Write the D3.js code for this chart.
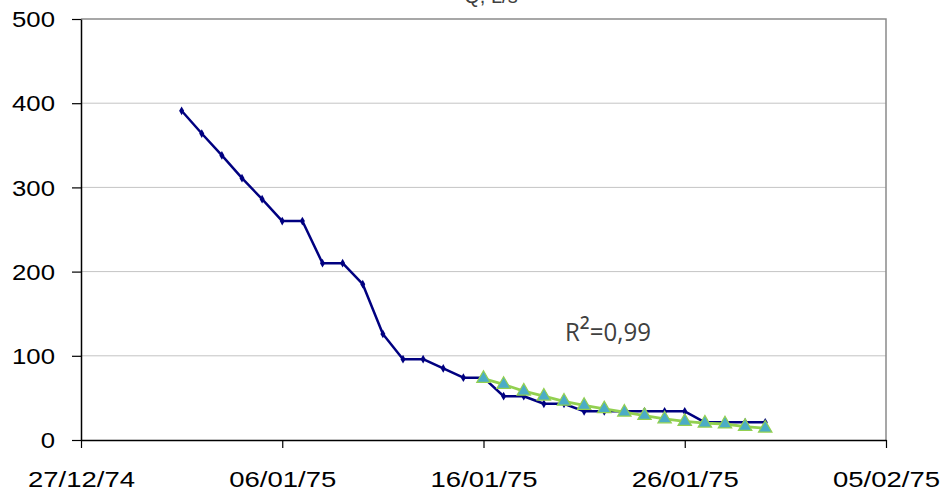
<!DOCTYPE html>
<html><head><meta charset="utf-8">
<script src="https://cdn.jsdelivr.net/npm/d3@7"></script>
<style>
html,body{margin:0;padding:0;background:#fff;}
svg{display:block;}
</style></head>
<body>
<svg id="c" width="946" height="497"></svg>
<script>
// ---- data ----
const obsDates = ["01/01/75","02/01/75","03/01/75","04/01/75","05/01/75","06/01/75","07/01/75","08/01/75","09/01/75","10/01/75",
  "11/01/75","12/01/75","13/01/75","14/01/75","15/01/75","16/01/75","17/01/75","18/01/75","19/01/75","20/01/75",
  "21/01/75","22/01/75","23/01/75","24/01/75","25/01/75","26/01/75","27/01/75","28/01/75","29/01/75","30/01/75"];
const obsValues = [391,364,338,311,286,260,260,210,210,185,126,96,96,85,74,74,52,52,43,43,34,34,34,34,34,34,21,21,21,21];
const fitDates = ["16/01/75","17/01/75","18/01/75","19/01/75","20/01/75","21/01/75","22/01/75","23/01/75","24/01/75","25/01/75",
  "26/01/75","27/01/75","28/01/75","29/01/75","30/01/75"];
const fitValues = [73,66,58,52,46,41,37,33,29,25,22,20,19,16,14];
const xTickLabels = ["27/12/74","06/01/75","16/01/75","26/01/75","05/02/75"];
const yTickValues = [0,100,200,300,400,500];
const r2Parts = ["R", "²", "=0,99"];
const titleText = "Q, L/s";

// ---- chart ----
const parse = d3.timeParse("%d/%m/%y");
const fmt = d3.timeFormat("%d/%m/%y");
const svg = d3.select("#c");
const L = 81, R = 886, T = 19, B = 440;
const x = d3.scaleTime().domain([parse(xTickLabels[0]), parse(xTickLabels[xTickLabels.length-1])]).range([L, R]);
const y = d3.scaleLinear().domain([0, 500]).range([B, T]);

// gridlines
svg.append("g").selectAll("line").data(yTickValues.filter(v => v > 0 && v < 500)).join("line")
  .attr("x1", L).attr("x2", R).attr("y1", d => y(d)).attr("y2", d => y(d))
  .attr("stroke", "#c4c4c4").attr("stroke-width", 1);
// plot border top/right
svg.append("path").attr("d", `M${L},${y(500)}H${R}V${B}`).attr("fill", "none")
  .attr("stroke", "#8a8a8a").attr("stroke-width", 1.5);

// title (clipped at top, as in the reference)
svg.append("text").attr("x", 491).attr("y", 3).attr("text-anchor", "middle")
  .attr("font-family", "Liberation Sans, Arial, sans-serif").attr("font-size", 20).attr("fill", "#404040")
  .text(titleText);

// y axis
const yAxis = svg.append("g").attr("transform", `translate(${L},0)`)
  .call(d3.axisLeft(y).tickValues(yTickValues).tickSize(9).tickSizeOuter(0));
yAxis.select(".domain").attr("stroke", "#000").attr("stroke-width", 1.5);
yAxis.selectAll(".tick line").attr("stroke", "#000").attr("stroke-width", 1.2);
yAxis.selectAll(".tick text").attr("font-family", "Liberation Sans, Arial, sans-serif").attr("font-size", 22)
  .attr("fill", "#000").attr("x", -26/1.17).attr("dy", "0.35em").attr("transform", "scale(1.17,1)");

// x axis
const xAxis = svg.append("g").attr("transform", `translate(0,${B})`)
  .call(d3.axisBottom(x).tickValues(xTickLabels.map(parse)).tickFormat(fmt).tickSize(8).tickSizeOuter(0));
xAxis.select(".domain").attr("stroke", "#000").attr("stroke-width", 1.5);
xAxis.selectAll(".tick line").attr("stroke", "#000").attr("stroke-width", 1.2);
xAxis.selectAll(".tick text").attr("font-family", "Liberation Sans, Arial, sans-serif").attr("font-size", 22)
  .attr("fill", "#000").attr("y", 47).attr("dy", 0).attr("transform", "scale(1.25,1)");

// observed series
const obs = obsDates.map((d, i) => ({ d: parse(d), v: obsValues[i] }));
const fit = fitDates.map((d, i) => ({ d: parse(d), v: fitValues[i] }));
const line = d3.line().x(p => x(p.d)).y(p => y(p.v));

svg.append("path").datum(obs).attr("d", line).attr("fill", "none")
  .attr("stroke", "#000080").attr("stroke-width", 2.5).attr("stroke-linejoin", "round");
svg.append("g").selectAll("path").data(obs).join("path")
  .attr("d", d3.symbol().type(d3.symbolDiamond).size(22))
  .attr("transform", p => `translate(${x(p.d)},${y(p.v)})`)
  .attr("fill", "#000080");

// fitted series
svg.append("path").datum(fit).attr("d", line).attr("fill", "none")
  .attr("stroke", "#92d050").attr("stroke-width", 2.8).attr("stroke-linejoin", "round");
svg.append("g").selectAll("path").data(fit).join("path")
  .attr("d", d3.symbol().type(d3.symbolTriangle).size(78))
  .attr("transform", p => `translate(${x(p.d)},${y(p.v)})`)
  .attr("fill", "#4bacc6").attr("stroke", "#92d050").attr("stroke-width", 1.2);

// R² label
const r2 = svg.append("text").attr("x", 565).attr("y", 341)
  .attr("font-family", "'Open Sans', 'Noto Sans', sans-serif").attr("font-size", 25).attr("fill", "#404040")
  .attr("textLength", 86).attr("lengthAdjust", "spacingAndGlyphs");
r2.append("tspan").text(r2Parts[0]);
r2.append("tspan").attr("font-size", 30).text(r2Parts[1]);
r2.append("tspan").text(r2Parts[2]);
</script>
</body></html>
